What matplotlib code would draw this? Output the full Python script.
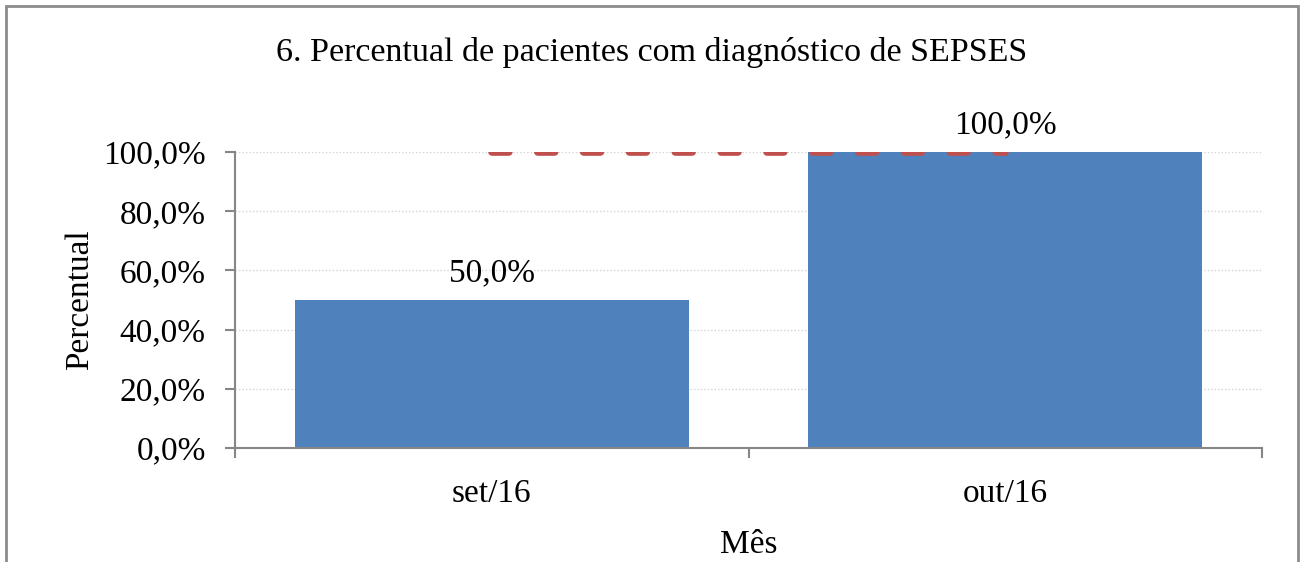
import matplotlib
matplotlib.use('Agg')
import matplotlib.pyplot as plt
from matplotlib.patches import Rectangle
from matplotlib.ticker import FuncFormatter

meses = ['set/16', 'out/16']
percentual = [0.50, 1.00]
meta = [1.00, 1.00]
rotulos = ['50,0%', '100,0%']

plt.rcParams['font.family'] = ['Liberation Serif', 'DejaVu Serif']

fig = plt.figure(figsize=(13.01, 5.62), dpi=100)
ax = fig.add_axes([235 / 1301, 114 / 562, 1027 / 1301, 296 / 562])

# moldura cinza em volta do grafico (cortada embaixo)
fig.patches.append(Rectangle((6 / 1301, -0.05), 1292 / 1301, 1.05 - 6 / 562,
                             transform=fig.transFigure, fill=False,
                             edgecolor='#8c8c8c', linewidth=2))

x = range(len(meses))
ax.bar(x, percentual, width=0.767, color='#4F81BD', zorder=2)
# linha da meta: fica no topo do eixo, metade cortada como no original
ax.plot(x, meta, color='#C0504D', linestyle=(0, (2.2, 3.8)), linewidth=5.5,
        dash_capstyle='round', zorder=3)

for xi, v, t in zip(x, percentual, rotulos):
    ax.text(xi, v + 0.04, t, ha='center', va='bottom', fontsize=24)

ax.set_xlim(-0.5, 1.5)
ax.set_ylim(0, 1)
ax.set_yticks([0, 0.2, 0.4, 0.6, 0.8, 1.0])
ax.yaxis.set_major_formatter(FuncFormatter(lambda v, p: f'{v * 100:.1f}%'.replace('.', ',')))
ax.set_xticks(list(x))
ax.set_xticklabels(meses)
ax.set_xticks([-0.5, 0.5, 1.5], minor=True)
ax.tick_params(axis='x', which='major', length=0, labelsize=24, pad=22)
ax.tick_params(axis='x', which='minor', length=7, color='#868686', width=1.5)
ax.tick_params(axis='y', length=7, color='#868686', width=1.5, labelsize=24, pad=14)

ax.grid(axis='y', linestyle=(0, (1, 1.5)), color='#d4d4d4', linewidth=1, zorder=0)
for s in ['top', 'right']:
    ax.spines[s].set_visible(False)
for s in ['left', 'bottom']:
    ax.spines[s].set_color('#868686')
    ax.spines[s].set_linewidth(1.5)

ax.set_ylabel('Percentual', fontsize=24, labelpad=6)
ax.set_xlabel('Mês', fontsize=24, labelpad=15)
fig.text(652 / 1301, 1 - 52 / 562, '6. Percentual de pacientes com diagnóstico de SEPSES',
         ha='center', va='center', fontsize=24.5)

fig.savefig('out.png', dpi=100)
